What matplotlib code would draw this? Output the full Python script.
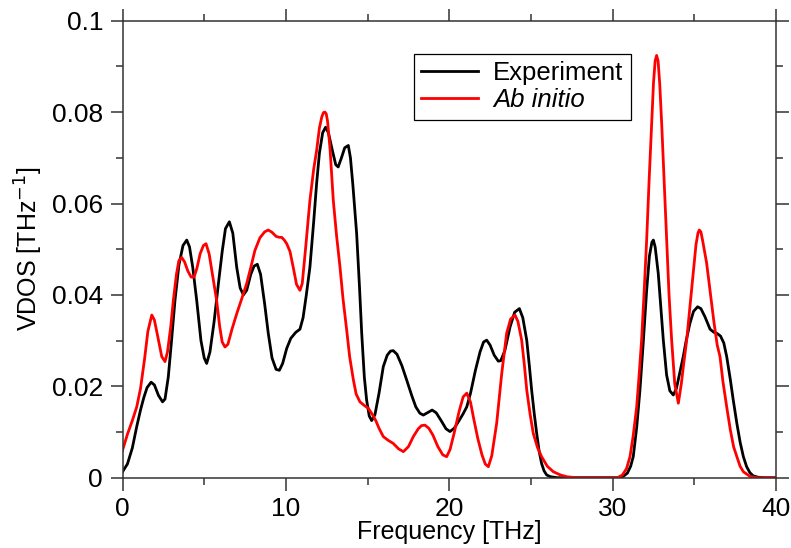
# VDOS: experiment vs ab initio
import matplotlib
matplotlib.use('Agg')
import matplotlib.pyplot as plt
from matplotlib.ticker import MultipleLocator, FixedLocator

plt.rcParams['font.family'] = ['Liberation Sans', 'DejaVu Sans']

# Experiment (frequency THz, VDOS)
exp_freq = [0.0, 0.3, 0.6, 0.87, 1.1, 1.3, 1.5, 1.75, 1.95, 2.2, 2.45, 2.6, 2.8, 3.0,
            3.21, 3.45, 3.7, 3.93, 4.1, 4.3, 4.54, 4.8, 5.0, 5.15, 5.35, 5.6, 5.87,
            6.1, 6.3, 6.54, 6.75, 6.99, 7.2, 7.4, 7.6, 7.85, 8.05, 8.25, 8.45, 8.7,
            8.92, 9.15, 9.4, 9.6, 9.8, 10.05, 10.3, 10.6, 10.86, 11.05, 11.25, 11.47,
            11.7, 11.88, 12.05, 12.25, 12.43, 12.6, 12.85, 13.05, 13.2, 13.4, 13.6,
            13.82, 13.95, 14.1, 14.33, 14.5, 14.64, 14.8, 14.94, 15.1, 15.25, 15.45,
            15.7, 15.96, 16.2, 16.4, 16.57, 16.8, 17.1, 17.39, 17.7, 17.95, 18.2,
            18.41, 18.7, 18.95, 19.2, 19.5, 19.8, 20.04, 20.3, 20.6, 20.85, 21.07,
            21.3, 21.6, 21.88, 22.1, 22.29, 22.5, 22.75, 23.0, 23.15, 23.4, 23.72,
            24.0, 24.29, 24.5, 24.74, 24.9, 25.04, 25.2, 25.35, 25.5, 25.65, 25.8,
            25.96, 26.2, 26.6, 28.0, 30.3, 30.65, 30.9, 31.1, 31.26, 31.47, 31.67,
            31.88, 32.08, 32.25, 32.4, 32.49, 32.6, 32.79, 32.95, 33.1, 33.3, 33.5,
            33.71, 33.9, 34.1, 34.32, 34.5, 34.73, 34.95, 35.2, 35.4, 35.65, 35.96,
            36.2, 36.37, 36.6, 36.8, 36.98, 37.2, 37.38, 37.6, 37.8, 38.0, 38.2,
            38.4, 38.6, 38.9, 39.3, 40.0]
exp_vdos = [0.0013, 0.003, 0.0065, 0.0112, 0.0148, 0.0175, 0.0197, 0.0209, 0.0203,
            0.018, 0.0166, 0.0172, 0.022, 0.030, 0.0388, 0.0465, 0.0508, 0.052,
            0.0505, 0.046, 0.0388, 0.030, 0.0262, 0.025, 0.0275, 0.034, 0.0425,
            0.0495, 0.0545, 0.056, 0.0535, 0.046, 0.0415, 0.0400, 0.0410, 0.0445,
            0.0463, 0.0467, 0.0445, 0.038, 0.0316, 0.0262, 0.0237, 0.0235, 0.025,
            0.0283, 0.0305, 0.0318, 0.0325, 0.035, 0.040, 0.0461, 0.056, 0.0644,
            0.071, 0.0755, 0.0767, 0.0755, 0.0715, 0.0685, 0.068, 0.0700, 0.0722,
            0.0727, 0.070, 0.064, 0.0534, 0.042, 0.0316, 0.022, 0.017, 0.0135,
            0.0125, 0.0138, 0.0185, 0.0243, 0.0268, 0.0277, 0.0278, 0.027, 0.0245,
            0.0214, 0.018, 0.0155, 0.0141, 0.0137, 0.0143, 0.0148, 0.0142, 0.0125,
            0.0107, 0.0101, 0.0108, 0.0125, 0.014, 0.0155, 0.0185, 0.0235, 0.0275,
            0.0297, 0.0301, 0.029, 0.0268, 0.0255, 0.0256, 0.0278, 0.033, 0.0362,
            0.037, 0.0350, 0.0301, 0.0245, 0.0192, 0.014, 0.0097, 0.0058, 0.0031,
            0.0015, 0.0006, 0.0002, 0.0, 0.0, 0.0, 0.0003, 0.001, 0.0025, 0.0046,
            0.011, 0.0192, 0.030, 0.041, 0.0485, 0.0515, 0.052, 0.0505, 0.0447,
            0.037, 0.0301, 0.0225, 0.0190, 0.0181, 0.0195, 0.0228, 0.0265, 0.030,
            0.0338, 0.0364, 0.0374, 0.037, 0.0352, 0.0325, 0.0318, 0.0316, 0.031,
            0.0295, 0.0265, 0.0215, 0.017, 0.0119, 0.0078, 0.0046, 0.0024, 0.0011,
            0.0004, 0.0001, 0.0, 0.0]

# Ab initio (frequency THz, VDOS)
abi_freq = [0.0, 0.3, 0.6, 0.87, 1.1, 1.35, 1.55, 1.79, 1.95, 2.15, 2.4, 2.6, 2.75,
            2.95, 3.11, 3.3, 3.45, 3.62, 3.8, 4.0, 4.2, 4.38, 4.55, 4.75, 4.95, 5.11,
            5.3, 5.5, 5.76, 5.95, 6.1, 6.27, 6.45, 6.7, 7.0, 7.3, 7.6, 7.85, 8.1,
            8.41, 8.7, 8.92, 9.15, 9.4, 9.6, 9.74, 9.9, 10.05, 10.25, 10.45, 10.65,
            10.86, 11.0, 11.2, 11.47, 11.7, 11.88, 12.05, 12.2, 12.3, 12.39, 12.47,
            12.55, 12.7, 12.9, 13.1, 13.31, 13.5, 13.72, 13.9, 14.13, 14.3, 14.53,
            14.8, 15.04, 15.3, 15.5, 15.7, 15.96, 16.25, 16.57, 16.9, 17.19, 17.5,
            17.8, 18.1, 18.3, 18.51, 18.75, 19.0, 19.3, 19.6, 19.84, 20.05, 20.3,
            20.6, 20.85, 21.07, 21.3, 21.5, 21.75, 22.0, 22.2, 22.39, 22.6, 22.9,
            23.21, 23.51, 23.75, 24.02, 24.2, 24.43, 24.6, 24.74, 24.95, 25.14, 25.4,
            25.65, 26.0, 26.37, 26.8, 27.2, 27.8, 30.3, 30.6, 30.85, 31.06, 31.25,
            31.47, 31.62, 31.77, 31.93, 32.08, 32.23, 32.39, 32.5, 32.6, 32.69,
            32.78, 32.88, 33.0, 33.15, 33.3, 33.45, 33.61, 33.8, 34.02, 34.2, 34.35,
            34.53, 34.73, 34.93, 35.1, 35.22, 35.3, 35.4, 35.5, 35.75, 35.96, 36.2,
            36.4, 36.57, 36.75, 36.98, 37.2, 37.4, 37.6, 37.8, 38.0, 38.4, 38.8, 40.0]
abi_vdos = [0.006, 0.0095, 0.0125, 0.0155, 0.0195, 0.026, 0.032, 0.0356, 0.0345,
            0.031, 0.0265, 0.0254, 0.0275, 0.033, 0.0388, 0.0445, 0.0475, 0.0482,
            0.0472, 0.0452, 0.0439, 0.0439, 0.0458, 0.049, 0.0508, 0.0512, 0.049,
            0.0445, 0.0388, 0.033, 0.0297, 0.0286, 0.0292, 0.0325, 0.036, 0.0392,
            0.0425, 0.046, 0.0497, 0.0525, 0.0538, 0.0542, 0.0537, 0.0528, 0.0526,
            0.0526, 0.052, 0.0512, 0.0495, 0.046, 0.0423, 0.041, 0.0425, 0.050,
            0.0607, 0.0675, 0.0716, 0.0765, 0.0790, 0.0799, 0.080, 0.0796, 0.0780,
            0.072, 0.0607, 0.053, 0.0461, 0.039, 0.0323, 0.0265, 0.0214, 0.0183,
            0.0166, 0.0158, 0.0152, 0.0138, 0.0125, 0.0108, 0.009, 0.0082, 0.0075,
            0.0063, 0.0057, 0.0068, 0.009, 0.0107, 0.0114, 0.0115, 0.0108, 0.0093,
            0.0068, 0.005, 0.0046, 0.0062, 0.0098, 0.0145, 0.0177, 0.0185, 0.0165,
            0.0128, 0.0085, 0.005, 0.003, 0.0024, 0.0048, 0.0119, 0.0228, 0.0316,
            0.0347, 0.0356, 0.0342, 0.0301, 0.0245, 0.0192, 0.0138, 0.0097, 0.0066,
            0.0046, 0.0025, 0.0013, 0.0006, 0.0002, 0.0, 0.0, 0.0006, 0.002, 0.0046,
            0.009, 0.0155, 0.0225, 0.0301, 0.041, 0.052, 0.065, 0.0775, 0.0865,
            0.0912, 0.0924, 0.0912, 0.0862, 0.0775, 0.065, 0.052, 0.040, 0.0301,
            0.0205, 0.0163, 0.0205, 0.025, 0.0301, 0.0375, 0.0447, 0.051, 0.0535,
            0.0542, 0.0538, 0.052, 0.047, 0.041, 0.034, 0.029, 0.0265, 0.021, 0.0155,
            0.0105, 0.0068, 0.0046, 0.0025, 0.0013, 0.0003, 0.0, 0.0]

x_ticks = [0, 10, 20, 30, 40]
x_labels = ['0', '10', '20', '30', '40']
y_ticks = [0, 0.02, 0.04, 0.06, 0.08, 0.1]
y_labels = ['0', '0.02', '0.04', '0.06', '0.08', '0.1']

fig = plt.figure(figsize=(7.91, 5.48), dpi=100)
ax = fig.add_axes([0.1549, 0.1283, 0.8262, 0.8339])

ax.plot(exp_freq, exp_vdos, color='black', lw=2.0, label='Experiment',
        solid_joinstyle='round')
ax.plot(abi_freq, abi_vdos, color='red', lw=2.0, label='Ab initio',
        solid_joinstyle='round')

ax.set_xlim(0, 40)
ax.set_ylim(0, 0.1)

ax.xaxis.set_major_locator(FixedLocator(x_ticks))
ax.set_xticklabels(x_labels)
ax.xaxis.set_minor_locator(MultipleLocator(5))
ax.yaxis.set_major_locator(FixedLocator(y_ticks))
ax.set_yticklabels(y_labels)
ax.yaxis.set_minor_locator(MultipleLocator(0.01))

ax.tick_params(which='both', direction='out', top=True, right=True,
               color='#333333', width=1.1, labelsize=19)
ax.tick_params(which='major', length=9, pad=5)
ax.tick_params(which='minor', length=4.8)
for s in ax.spines.values():
    s.set_color('#333333')
    s.set_linewidth(1.1)

ax.set_xlabel('Frequency [THz]', fontsize=18, labelpad=-1)
ax.set_ylabel('VDOS [THz$^{-1}$]', fontsize=18, labelpad=5)

leg = ax.legend(loc='upper left', bbox_to_anchor=(0.4455, 0.928), fontsize=18.5,
                frameon=True, fancybox=False, framealpha=1, edgecolor='black',
                handlelength=2.2, handletextpad=0.6, borderpad=0.3,
                labelspacing=0.12, borderaxespad=0)
leg.get_frame().set_linewidth(0.9)
leg.get_texts()[1].set_style('italic')

plt.savefig('out.png', dpi=100)
